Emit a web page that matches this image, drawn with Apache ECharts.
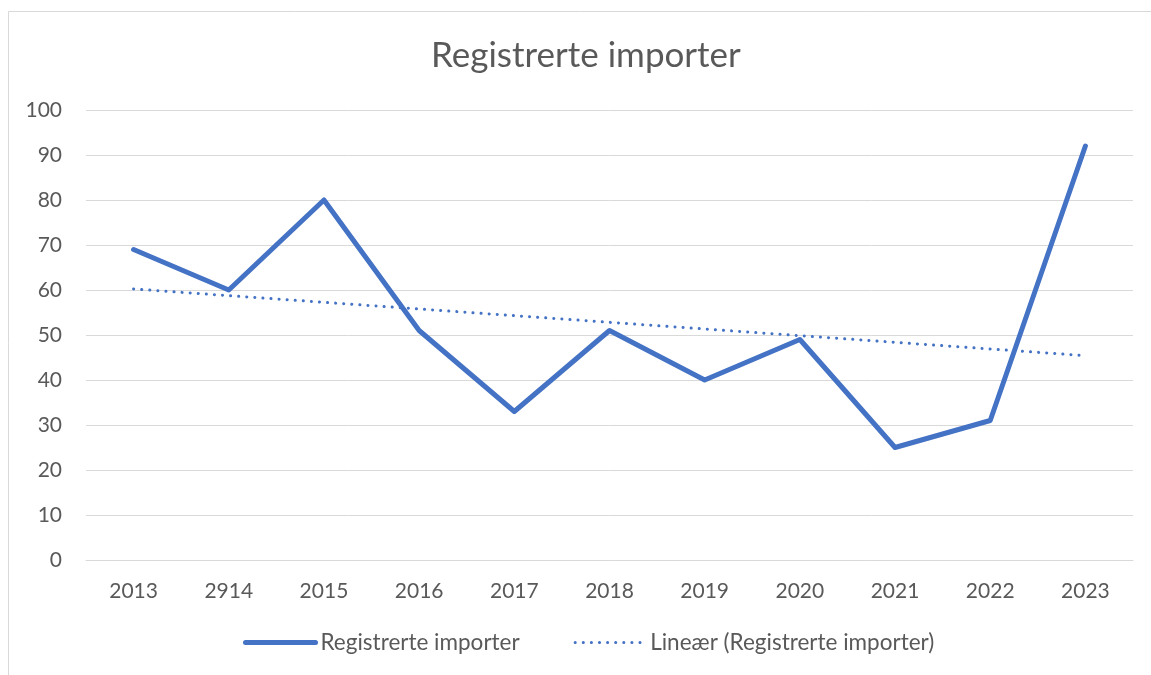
<!DOCTYPE html>
<html>
<head>
<meta charset="utf-8">
<script src="https://cdn.jsdelivr.net/npm/echarts@6/dist/echarts.min.js"></script>
<style>
  html, body { margin: 0; padding: 0; background: #ffffff; }
  #chart { width: 1151px; height: 675px; }
</style>
</head>
<body>
<div id="chart"></div>
<script>
// Year labels along the x axis (as entered in the source sheet)
const years = ['2013', '2914', '2015', '2016', '2017', '2018', '2019', '2020', '2021', '2022', '2023'];
// Registered imports per year
const imports = [69, 60, 80, 51, 33, 51, 40, 49, 25, 31, 92];
// Y axis range
const yMin = 0, yMax = 100, yStep = 10;

// Least-squares linear trend over the series
function linearTrend(values) {
  const n = values.length;
  let sx = 0, sy = 0, sxy = 0, sxx = 0;
  values.forEach((v, i) => { sx += i; sy += v; sxy += i * v; sxx += i * i; });
  const slope = (n * sxy - sx * sy) / (n * sxx - sx * sx);
  const icpt = (sy - slope * sx) / n;
  return values.map((_, i) => +(icpt + slope * i).toFixed(3));
}
const trend = linearTrend(imports);

const FONT = 'Lato, "Open Sans", sans-serif';
const TEXT = '#595959';
const BLUE = '#4472C4';

const chart = echarts.init(document.getElementById('chart'), null, { renderer: 'canvas' });
chart.setOption({
  animation: false,
  backgroundColor: '#ffffff',
  textStyle: { fontFamily: FONT },
  graphic: [{
    type: 'rect',
    shape: { x: 8.5, y: 11.5, width: 1200, height: 700 },
    style: { fill: 'none', stroke: '#d9d9d9', lineWidth: 1 },
    silent: true,
    z: -1
  }],
  title: {
    text: 'Registrerte importer',
    left: 426,
    top: 33,
    textStyle: { fontFamily: FONT, fontSize: 35, fontWeight: 'normal', color: TEXT }
  },
  legend: {
    bottom: 16,
    left: 238,
    itemGap: 54,
    itemWidth: 70,
    itemHeight: 10,
    itemStyle: { opacity: 0 },
    textStyle: { fontFamily: FONT, fontSize: 22.5, color: TEXT },
    data: [
      { name: 'Registrerte importer', lineStyle: { width: 5 } },
      { name: 'Lineær (Registrerte importer)', lineStyle: { width: 3 } }
    ]
  },
  grid: { left: 86, right: 18, top: 110, bottom: 115, containLabel: false },
  xAxis: {
    type: 'category',
    data: years,
    boundaryGap: true,
    axisLine: { show: true, lineStyle: { color: '#d9d9d9', width: 1 } },
    axisTick: { show: false },
    axisLabel: { color: TEXT, fontFamily: FONT, fontSize: 21, margin: 21 }
  },
  yAxis: {
    type: 'value',
    min: yMin,
    max: yMax,
    interval: yStep,
    axisLine: { show: false },
    axisTick: { show: false },
    axisLabel: { color: TEXT, fontFamily: FONT, fontSize: 21, margin: 24 },
    splitLine: { lineStyle: { color: '#d9d9d9', width: 1 } }
  },
  series: [
    {
      name: 'Registrerte importer',
      type: 'line',
      data: imports,
      symbol: 'none',
      color: BLUE,
      lineStyle: { color: BLUE, width: 5, cap: 'round', join: 'round' },
      z: 3
    },
    {
      name: 'Lineær (Registrerte importer)',
      type: 'line',
      data: trend,
      symbol: 'none',
      color: BLUE,
      lineStyle: { color: BLUE, width: 3, type: [0.1, 8], cap: 'round' },
      z: 2
    }
  ]
});
</script>
</body>
</html>
